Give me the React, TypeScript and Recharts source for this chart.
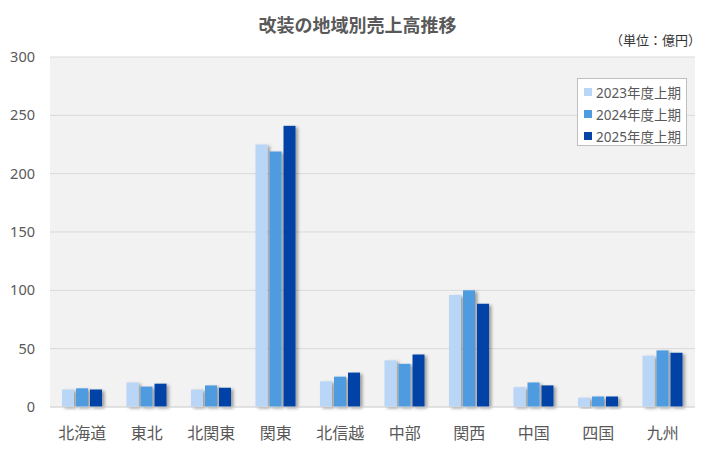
import { BarChart, Bar, XAxis, YAxis, CartesianGrid, Legend } from "recharts";

// 地域（カテゴリ）
const regions = ["北海道", "東北", "北関東", "関東", "北信越", "中部", "関西", "中国", "四国", "九州"];

// 各期の売上高（億円）
const sales2023 = [15, 21, 15, 225, 22, 40, 96, 17, 8, 44];
const sales2024 = [16, 17.5, 18.5, 219, 26, 37, 100, 21, 9, 48.5];
const sales2025 = [15, 20, 16.5, 241, 29.5, 45, 88.5, 18.5, 9, 46.5];

const yTicks = [0, 50, 100, 150, 200, 250, 300];

const seriesNames = ["2023年度上期", "2024年度上期", "2025年度上期"];
const seriesColors = ["#b9d6f6", "#4f9be0", "#0543a5"];

const chartData = regions.map((region, i) => ({
  region,
  s2023: sales2023[i],
  s2024: sales2024[i],
  s2025: sales2025[i],
}));

const FONT = "'Noto Sans', 'Noto Sans CJK JP', sans-serif";
const TEXT = "#595959";

// bar with a soft drop shadow, like the original spreadsheet chart
const ShadowBar = (props: any) => {
  const { x, y, width, height, fill } = props;
  if (!height || height <= 0) return null;
  return <rect x={x} y={y} width={width} height={height} fill={fill} filter="url(#barShadow)" />;
};

const LegendBox = () => (
  <div
    style={{
      width: 110,
      height: 68,
      background: "#ffffff",
      border: "1px solid #bfbfbf",
      fontFamily: FONT,
      fontSize: 13.5,
      color: TEXT,
      boxSizing: "border-box",
      padding: "2px 0 0 6px",
    }}
  >
    {seriesNames.map((name, i) => (
      <div key={name} style={{ display: "flex", alignItems: "center", height: 22 }}>
        <span style={{ width: 8, height: 8, background: seriesColors[i], marginRight: 4, display: "inline-block" }} />
        <span>{name}</span>
      </div>
    ))}
  </div>
);

export default function App() {
  return (
    <div style={{ position: "absolute", left: 0, top: 0, width: 715, height: 454, background: "#fff", fontFamily: FONT }}>
      <svg width={0} height={0} style={{ position: "absolute" }}>
        <defs>
          <filter id="barShadow" x="-40%" y="-10%" width="200%" height="130%">
            <feDropShadow dx={2.5} dy={1.5} stdDeviation={1.4} floodColor="#000" floodOpacity={0.35} />
          </filter>
        </defs>
      </svg>
      <div
        style={{
          position: "absolute",
          left: 0,
          width: 715,
          top: 11,
          textAlign: "center",
          fontSize: 18,
          fontWeight: "bold",
          color: TEXT,
        }}
      >
        改装の地域別売上高推移
      </div>
      <div style={{ position: "absolute", right: 14, top: 30, fontSize: 13, color: "#333" }}>（単位：億円）</div>
      <BarChart
        width={715}
        height={454}
        data={chartData}
        margin={{ top: 57, right: 20, bottom: 7, left: 0 }}
        barGap={2}
        barCategoryGap="19%"
      >
        <CartesianGrid vertical={false} stroke="#d9d9d9" fill="#f2f2f2" />
        <XAxis
          dataKey="region"
          height={40}
          axisLine={{ stroke: "#d9d9d9" }}
          tickLine={false}
          tickMargin={15}
          tick={{ fontSize: 16, fill: TEXT, fontFamily: FONT }}
          interval={0}
        />
        <YAxis
          width={50}
          domain={[0, 300]}
          ticks={yTicks}
          axisLine={false}
          tickLine={false}
          tickMargin={9}
          tick={{ fontSize: 14.5, fill: TEXT, fontFamily: FONT }}
        />
        <Legend
          layout="vertical"
          align="center"
          verticalAlign="middle"
          wrapperStyle={{ left: 577, top: 78, width: 112 }}
          content={LegendBox}
        />
        <Bar dataKey="s2023" name={seriesNames[0]} fill={seriesColors[0]} barSize={12} shape={ShadowBar} isAnimationActive={false} />
        <Bar dataKey="s2024" name={seriesNames[1]} fill={seriesColors[1]} barSize={12} shape={ShadowBar} isAnimationActive={false} />
        <Bar dataKey="s2025" name={seriesNames[2]} fill={seriesColors[2]} barSize={12} shape={ShadowBar} isAnimationActive={false} />
      </BarChart>
    </div>
  );
}
